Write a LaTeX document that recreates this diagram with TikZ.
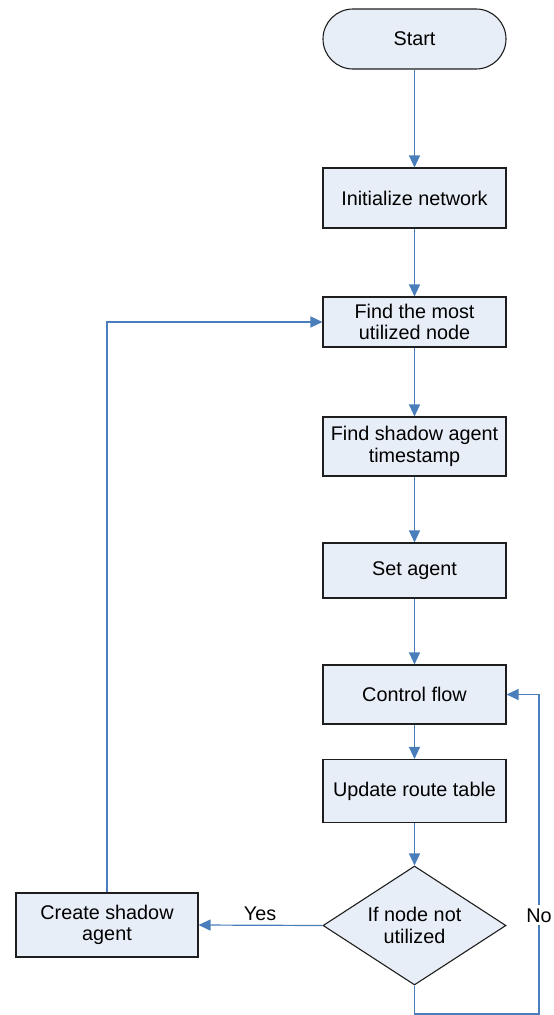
\documentclass[tikz,border=0pt]{standalone}
\usepackage{fontspec}
\setmainfont{Liberation Sans}
\usetikzlibrary{shapes.geometric,arrows.meta}
\definecolor{boxfill}{RGB}{232,238,247}
\definecolor{linkblue}{RGB}{74,126,187}
\definecolor{edgecol}{RGB}{30,30,30}
\begin{document}
\begin{tikzpicture}[x=1pt,y=-1pt,
  txt/.style={font=\fontsize{19.8}{21.5}\selectfont},
  stepbox/.style={txt, draw=edgecol, line width=1.1pt, fill=boxfill, minimum width=183pt, inner sep=0pt, align=center},
  term/.style={stepbox, rounded corners=30pt},
  decision/.style={txt, diamond, aspect=1.54, draw=edgecol, line width=1.1pt, fill=boxfill, minimum width=183pt, minimum height=119pt, inner sep=0pt, align=center},
  link/.style={draw=linkblue, line width=1.2pt, -{Triangle[length=12pt,width=11pt]}},
  lbl/.style={txt, fill=white, inner xsep=1pt, inner ysep=3pt, text height=14pt, text depth=0pt}
]
\useasboundingbox (0,0) rectangle (554,1015);
\node[term, minimum height=60pt] (start) at (414.5,39) {Start};
\node[stepbox, minimum height=60pt] (init) at (414.5,198) {Initialize network};
\node[stepbox, minimum height=50pt] (find) at (414.5,322) {Find the most\\utilized node};
\node[stepbox, minimum height=59pt] (shadow) at (414.5,446.5) {Find shadow agent\\timestamp};
\node[stepbox, minimum height=55pt] (set) at (414.5,570.5) {Set agent};
\node[stepbox, minimum height=59pt] (control) at (414.5,694.5) {Control flow};
\node[stepbox, minimum height=63pt] (update) at (414.5,791) {Update route table};
\node[decision] (dec) at (414.5,925.5) {If node not\\utilized};
\node[stepbox, minimum width=182pt, minimum height=64pt] (create) at (107,925) {Create shadow\\agent};

\draw[link] (start) -- (init);
\draw[link] (init) -- (find);
\draw[link] (find) -- (shadow);
\draw[link] (shadow) -- (set);
\draw[link] (set) -- (control);
\draw[link] (control) -- (update);
\draw[link] (update) -- (dec);
\draw[link] (create.north) |- (find.west);
\draw[link] (dec.west) -- (create.east);
\coordinate (nr) at (539,1014);
\draw[link] (dec.south) |- (nr) |- (control.east);
\node[lbl, anchor=base] (yes) at (260,920) {Yes};
\node[lbl, anchor=base] (no) at (539,922) {No};
\end{tikzpicture}
\end{document}
